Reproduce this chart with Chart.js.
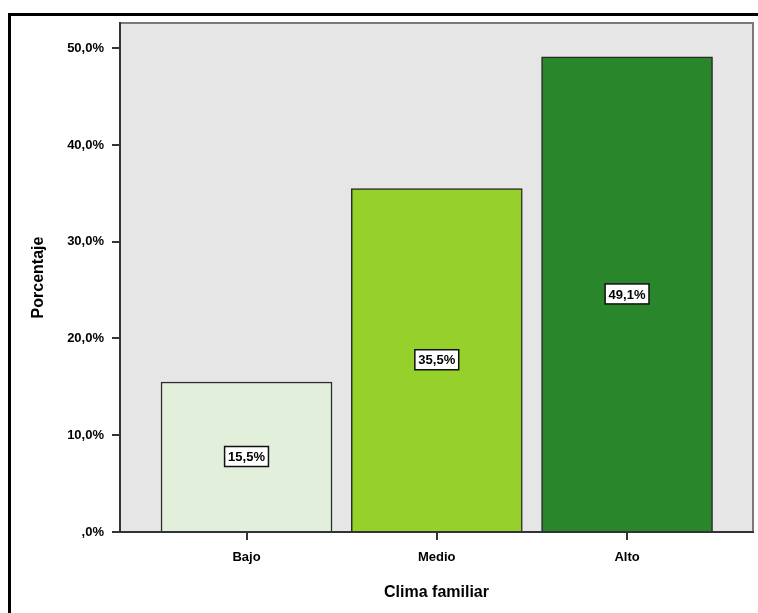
<!DOCTYPE html>
<html>
<head>
<meta charset="utf-8">
<script src="https://cdn.jsdelivr.net/npm/chart.js@4/dist/chart.umd.min.js"></script>
<style>
  html, body { margin: 0; padding: 0; background: #fff; }
  #wrap { position: relative; width: 758px; height: 613px; overflow: hidden; }
  #frame { position: absolute; left: 8px; top: 13px; width: 800px; height: 700px; border: 3px solid #000; }
  #barChart { position: absolute; left: 0; top: 0; }
</style>
</head>
<body>
<div id="wrap">
  <div id="frame"></div>
  <canvas id="barChart" width="758" height="613"></canvas>
</div>
<script>
// categorias y porcentajes
const categories = ["Bajo", "Medio", "Alto"];
const percentages = [15.5, 35.5, 49.1];
const barColors = ["#e2efda", "#95d12a", "#29862a"];
const yTicks = [0, 10, 20, 30, 40, 50];

const fmt = (v) => {
    const s = v.toFixed(1).replace(".", ",");
    return (s.startsWith("0,") ? s.slice(1) : s) + "%";
};

// fondo gris del area de trazado y su marco
const plotBackground = {
    id: "plotBackground",
    beforeDraw(chart) {
        const { ctx, chartArea: a } = chart;
        ctx.save();
        ctx.fillStyle = "#e6e6e6";
        ctx.fillRect(a.left, a.top, a.right - a.left, a.bottom - a.top);
        ctx.strokeStyle = "#7a7a7a";
        ctx.lineWidth = 2;
        ctx.strokeRect(a.left, a.top, a.right - a.left, a.bottom - a.top);
        ctx.restore();
    }
};

// etiquetas con caja blanca en el centro de cada barra
const boxLabels = {
    id: "boxLabels",
    afterDatasetsDraw(chart) {
        const { ctx } = chart;
        const meta = chart.getDatasetMeta(0);
        ctx.save();
        ctx.font = "bold 13px 'Liberation Sans', Arial, sans-serif";
        ctx.textAlign = "center";
        ctx.textBaseline = "middle";
        meta.data.forEach((bar, i) => {
            const text = fmt(percentages[i]);
            const cx = bar.x;
            const cy = (bar.y + bar.base) / 2;
            const w = ctx.measureText(text).width + 7;
            const h = 20;
            ctx.fillStyle = "#fff";
            ctx.fillRect(cx - w / 2, cy - h / 2, w, h);
            ctx.strokeStyle = "#111";
            ctx.lineWidth = 1.5;
            ctx.strokeRect(cx - w / 2, cy - h / 2, w, h);
            ctx.fillStyle = "#000";
            ctx.fillText(text, cx, cy + 1);
        });
        ctx.restore();
    }
};

const ctx = document.getElementById("barChart").getContext("2d");
const barChart = new Chart(ctx, {
    type: "bar",
    data: {
        datasets: [{
            data: percentages.map((v, i) => ({ x: i, y: v })),
            backgroundColor: barColors,
            borderColor: "#2a2a2a",
            borderWidth: 1.5,
            barThickness: 171
        }]
    },
    options: {
        responsive: false,
        animation: false,
        layout: { padding: { top: 23, right: 5, left: 0, bottom: 0 } },
        plugins: {
            legend: { display: false },
            tooltip: { enabled: false }
        },
        scales: {
            x: {
                type: "linear",
                offset: false,
                min: -0.665,
                max: 2.662,
                afterBuildTicks: (scale) => {
                    scale.ticks = categories.map((c, i) => ({ value: i }));
                },
                afterFit: (scale) => { scale.height = 81; },
                grid: { offset: false, drawOnChartArea: false, drawTicks: true, tickLength: 8, color: "#333", lineWidth: 2 },
                border: { display: true, color: "#333", width: 2 },
                ticks: {
                    padding: 10,
                    color: "#000",
                    font: { family: "'Liberation Sans', Arial, sans-serif", size: 13, weight: "bold" },
                    callback: (v) => categories[v]
                },
                title: {
                    display: true,
                    text: "Clima familiar",
                    color: "#000",
                    padding: { top: 0, bottom: 11 },
                    font: { family: "'Liberation Sans', Arial, sans-serif", size: 16, weight: "bold" }
                }
            },
            y: {
                min: 0,
                max: 52.6,
                afterBuildTicks: (scale) => {
                    scale.ticks = yTicks.map((v) => ({ value: v }));
                },
                afterFit: (scale) => { scale.width = 120; },
                grid: { drawOnChartArea: false, drawTicks: true, tickLength: 8, color: "#333", lineWidth: 2 },
                border: { display: true, color: "#333", width: 2 },
                ticks: {
                    padding: 8,
                    color: "#000",
                    font: { family: "'Liberation Sans', Arial, sans-serif", size: 13, weight: "bold" },
                    callback: (v) => fmt(v)
                },
                title: {
                    display: true,
                    text: "Porcentaje",
                    color: "#000",
                    padding: { top: 29, bottom: 0 },
                    font: { family: "'Liberation Sans', Arial, sans-serif", size: 16, weight: "bold" }
                }
            }
        }
    },
    plugins: [plotBackground, boxLabels]
});
</script>
</body>
</html>
